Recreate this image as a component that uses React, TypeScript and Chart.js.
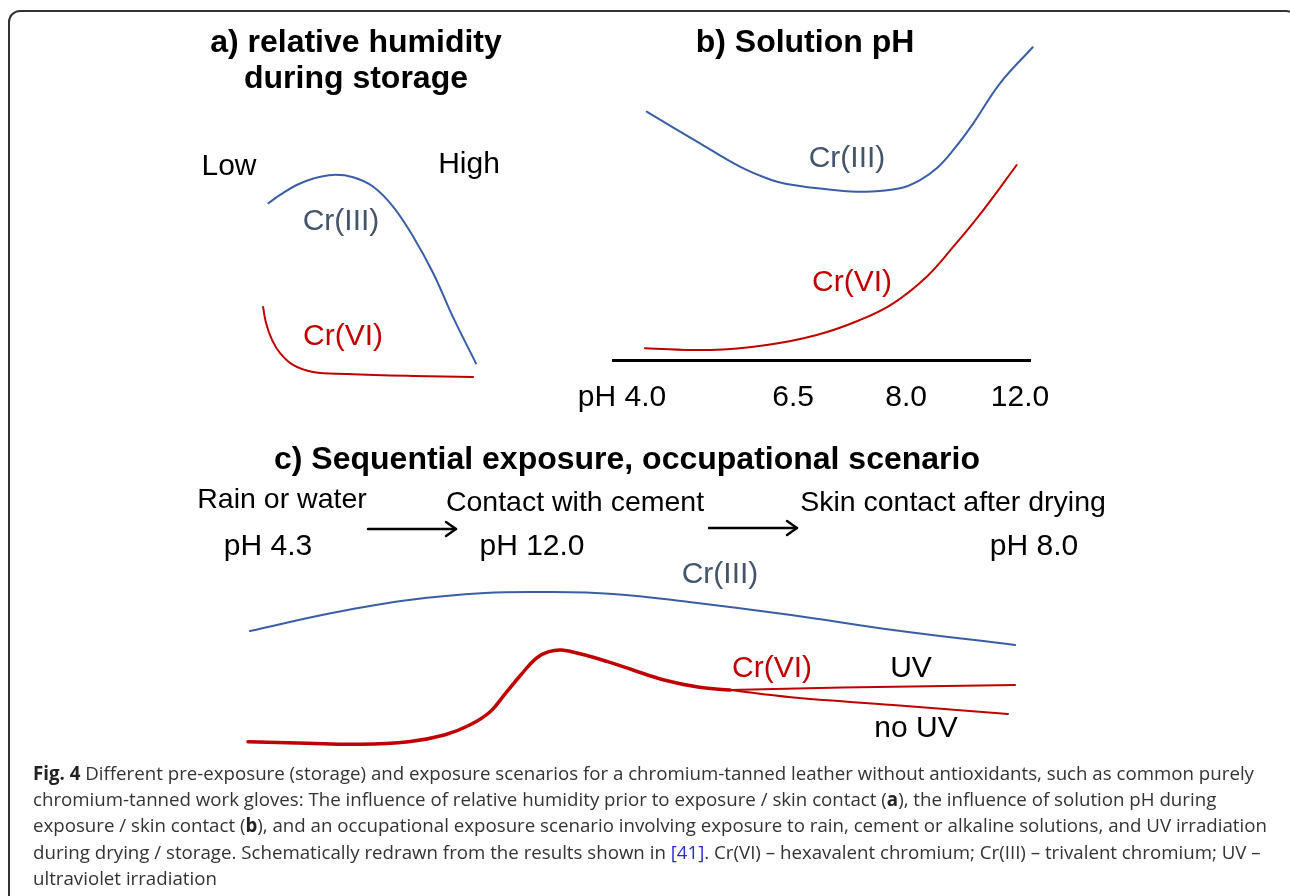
import React, { useEffect, useRef } from "react";
import { Chart, registerables } from "chart.js";

Chart.register(...registerables);

// ---------- Panel a: relative humidity during storage (schematic units 0..10) ----------
const humidityCr3X = [0.58, 1.09, 1.81, 2.54, 3.4, 4.27, 5.14, 6.01, 6.88, 7.75, 8.62, 9.61];
const humidityCr3Y = [8.26, 8.64, 9.09, 9.39, 9.55, 9.44, 9.01, 8.1, 6.74, 5.08, 3.06, 0.98];
const humidityCr6X = [0.35, 0.48, 0.74, 1.09, 1.65, 2.52, 4.0, 6.87, 9.48];
const humidityCr6Y = [3.55, 2.82, 2.05, 1.45, 0.91, 0.59, 0.5, 0.41, 0.36];

// ---------- Panel b: solution pH (schematic units 0..100) ----------
const phCr3X = [8.08, 20.86, 30.46, 36.86, 41.66, 52.83, 60.84, 68.82, 73.62, 77.63, 81.61, 86.4, 92.81, 100.65];
const phCr3Y = [76.4, 66.68, 59.48, 55.91, 54.15, 52.31, 51.78, 52.83, 55.38, 58.98, 64.62, 72.83, 85.14, 96.22];
const phCr6X = [7.67, 23.26, 36.86, 48.85, 59.23, 67.22, 75.23, 81.61, 88.81, 96.81];
const phCr6Y = [3.6, 3.08, 4.62, 7.69, 12.31, 17.45, 25.63, 34.86, 46.15, 60.0];
const phTickPositions = [2.16, 43.2, 70.3, 97.6];
const phTickLabels = ["pH 4.0", "6.5", "8.0", "12.0"];

// ---------- Panel c: sequential exposure (schematic units 0..100) ----------
const seqCr3X = [1.27, 11.72, 21.53, 31.21, 38.98, 47.52, 57.2, 70.19, 83.18, 98.73];
const seqCr3Y = [70.0, 80.59, 88.24, 92.35, 92.94, 91.76, 87.06, 79.41, 70.59, 61.76];
const seqCr6X = [1.01, 8.54, 14.98, 21.48, 26.03, 29.27, 31.87, 33.82, 35.77, 37.72, 39.35, 40.97, 43.57, 46.83, 50.06, 54.01, 58.52, 62.42];
const seqCr6Y = [4.88, 3.94, 3.35, 4.88, 8.82, 14.71, 22.53, 33.35, 44.12, 53.94, 57.82, 58.82, 56.29, 51.94, 47.06, 41.18, 36.88, 35.29];
const seqUvX = [62.42, 76.69, 98.73];
const seqUvY = [35.29, 36.8, 38.24];
const seqNoUvX = [62.42, 70.19, 83.18, 97.83];
const seqNoUvY = [35.29, 31.0, 26.47, 21.18];

const BLUE = "#3a5ea6";
const RED = "#c00000";
const CR3_TEXT = "#44546a";
const FIG_FONT = '"Liberation Sans", Arial, Helvetica, sans-serif';

function pts(xs: number[], ys: number[]) {
  return xs.map((x, i) => ({ x, y: ys[i] }));
}

function ds(xs: number[], ys: number[], color: string, width: number) {
  return {
    data: pts(xs, ys),
    borderColor: color,
    borderWidth: width,
    fill: false,
    pointRadius: 0,
    clip: false as any,
    tension: 0.4,
    borderCapStyle: "round" as const,
    borderJoinStyle: "round" as const,
  };
}

function baseOptions(xmax: number, ymax: number): any {
  return {
    responsive: false,
    animation: false,
    events: [],
    layout: { padding: 0 },
    plugins: { legend: { display: false }, tooltip: { enabled: false }, title: { display: false } },
    scales: {
      x: { type: "linear", min: 0, max: xmax, display: false },
      y: { type: "linear", min: 0, max: ymax, display: false },
    },
  };
}

function ChartBox(props: { left: number; top: number; width: number; height: number; make: () => any }) {
  const ref = useRef<HTMLCanvasElement>(null);
  useEffect(() => {
    const chart = new Chart(ref.current as HTMLCanvasElement, props.make());
    return () => chart.destroy();
  }, []);
  return (
    <canvas
      ref={ref}
      width={props.width}
      height={props.height}
      style={{ position: "absolute", left: props.left, top: props.top, width: props.width, height: props.height }}
    />
  );
}

function T(props: { x: number; y: number; size: number; bold?: boolean; color?: string; sx?: number; children: any }) {
  return (
    <div
      style={{
        position: "absolute",
        left: props.x,
        top: props.y,
        transform: `translate(-50%, -50%) scaleX(${props.sx || 1})`,
        fontFamily: FIG_FONT,
        fontSize: props.size,
        fontWeight: props.bold ? 700 : 400,
        color: props.color || "#000",
        lineHeight: 1,
        whiteSpace: "nowrap",
      }}
    >
      {props.children}
    </div>
  );
}

const makeA = () => ({
  type: "line",
  data: {
    datasets: [ds(humidityCr3X, humidityCr3Y, BLUE, 2), ds(humidityCr6X, humidityCr6Y, RED, 2)],
  },
  options: baseOptions(10, 10),
});

const makeB = () => {
  const o = baseOptions(100, 100);
  o.layout = { padding: { left: 48, right: 30, top: 5, bottom: 0 } };
  o.scales.x = {
    type: "linear",
    min: 0,
    max: 100,
    display: true,
    grid: { display: false, drawTicks: false },
    border: { display: true, color: "#000", width: 3 },
    ticks: {
      autoSkip: false,
      maxRotation: 0,
      padding: 20,
      color: "#000",
      font: { family: FIG_FONT, size: 30 },
      callback: (_v: any, i: number) => phTickLabels[i],
    },
    afterBuildTicks: (s: any) => {
      s.ticks = phTickPositions.map((v) => ({ value: v }));
    },
    afterFit: (s: any) => {
      s.height = 60;
      s.paddingLeft = 0;
      s.paddingRight = 0;
    },
  };
  return {
    type: "line",
    data: { datasets: [ds(phCr3X, phCr3Y, BLUE, 2), ds(phCr6X, phCr6Y, RED, 2)] },
    options: o,
  };
};

const makeC = () => ({
  type: "line",
  data: {
    datasets: [
      ds(seqCr3X, seqCr3Y, BLUE, 2),
      ds(seqUvX, seqUvY, RED, 2),
      ds(seqNoUvX, seqNoUvY, RED, 2),
      ds(seqCr6X, seqCr6Y, RED, 3.5),
    ],
  },
  options: baseOptions(100, 100),
});

function Arrow(props: { x1: number; x2: number; y: number }) {
  const { x1, x2, y } = props;
  return (
    <g stroke="#000" strokeWidth={2.4} fill="none" strokeLinecap="round" strokeLinejoin="round">
      <line x1={x1} y1={y} x2={x2} y2={y} />
      <polyline points={`${x2 - 10},${y - 7} ${x2},${y} ${x2 - 10},${y + 7}`} />
    </g>
  );
}

export default function App() {
  return (
    <div
      style={{
        position: "absolute",
        left: 0,
        top: 0,
        width: 1290,
        height: 896,
        overflow: "hidden",
        background: "#fff",
      }}
    >
      <div
        style={{
          position: "absolute",
          left: 8,
          top: 10,
          width: 1290,
          height: 1000,
          boxSizing: "border-box",
          border: "2px solid #333",
          borderRadius: 12,
        }}
      />

      <ChartBox left={255} top={165} width={230} height={220} make={makeA} />
      <ChartBox left={565} top={30} width={495} height={390} make={makeB} />
      <ChartBox left={240} top={580} width={785} height={170} make={makeC} />

      <svg width={1290} height={896} style={{ position: "absolute", left: 0, top: 0 }}>
        <Arrow x1={368} x2={456} y={529} />
        <Arrow x1={709} x2={797} y={528} />
      </svg>

      {/* Panel a */}
      <T x={356} y={41} size={32} bold>a) relative humidity</T>
      <T x={356} y={77} size={32} bold>during storage</T>
      <T x={229} y={165} size={30}>Low</T>
      <T x={469} y={163} size={30}>High</T>
      <T x={341} y={220} size={30} color={CR3_TEXT}>Cr(III)</T>
      <T x={343} y={335} size={30} color={RED}>Cr(VI)</T>

      {/* Panel b */}
      <T x={805} y={41} size={32} bold>b) Solution pH</T>
      <T x={847} y={157} size={30} color={CR3_TEXT}>Cr(III)</T>
      <T x={852} y={281} size={30} color={RED}>Cr(VI)</T>

      {/* Panel c */}
      <T x={627} y={458} size={32} bold>c) Sequential exposure, occupational scenario</T>
      <T x={282} y={498} size={28.5}>Rain or water</T>
      <T x={575} y={501} size={28.5}>Contact with cement</T>
      <T x={953} y={501} size={28.5}>Skin contact after drying</T>
      <T x={268} y={545} size={30}>pH 4.3</T>
      <T x={532} y={545} size={30}>pH 12.0</T>
      <T x={1034} y={545} size={30}>pH 8.0</T>
      <T x={720} y={573} size={30} color={CR3_TEXT}>Cr(III)</T>
      <T x={772} y={667} size={30} color={RED}>Cr(VI)</T>
      <T x={911} y={667} size={30}>UV</T>
      <T x={916} y={727} size={30}>no UV</T>

      {/* Caption */}
      <div
        style={{
          position: "absolute",
          left: 33,
          top: 760,
          fontFamily: '"Open Sans", "Noto Sans", sans-serif',
          fontSize: 18.7,
          lineHeight: "26.2px",
          color: "#333",
          whiteSpace: "nowrap",
        }}
      >
        <div>
          <b style={{ color: "#222" }}>Fig. 4</b> Different pre-exposure (storage) and exposure scenarios for a chromium-tanned leather without antioxidants, such as common purely
        </div>
        <div>
          chromium-tanned work gloves: The influence of relative humidity prior to exposure / skin contact (<b style={{ color: "#222" }}>a</b>), the influence of solution pH during
        </div>
        <div>
          exposure / skin contact (<b style={{ color: "#222" }}>b</b>), and an occupational exposure scenario involving exposure to rain, cement or alkaline solutions, and UV irradiation
        </div>
        <div>
          during drying / storage. Schematically redrawn from the results shown in <span style={{ color: "#2a2ad0" }}>[41]</span>. Cr(VI) – hexavalent chromium; Cr(III) – trivalent chromium; UV –
        </div>
        <div>ultraviolet irradiation</div>
      </div>
    </div>
  );
}
